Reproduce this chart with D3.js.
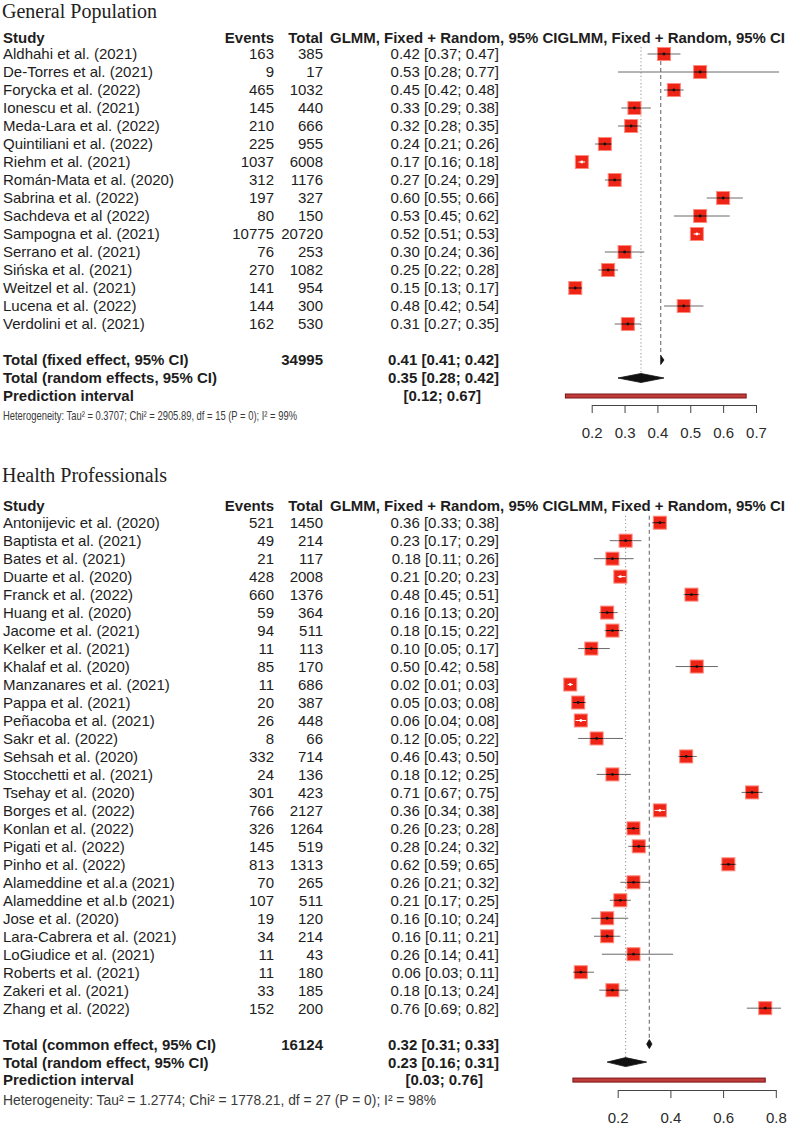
<!DOCTYPE html>
<html><head><meta charset="utf-8">
<script src="https://cdn.jsdelivr.net/npm/d3@7"></script>
<style>
html,body{margin:0;padding:0;background:#fff;}
svg{display:block;}
</style></head>
<body>
<svg id="chart" width="789" height="1125"></svg>
<script>
// ---------- General Population ----------
const gpStudies = ["Aldhahi et al. (2021)","De-Torres et al. (2021)","Forycka et al. (2022)","Ionescu et al. (2021)","Meda-Lara et al. (2022)","Quintiliani et al. (2022)","Riehm et al. (2021)","Román-Mata et al. (2020)","Sabrina et al. (2022)","Sachdeva et al (2022)","Sampogna et al. (2021)","Serrano et al. (2021)","Sińska et al. (2021)","Weitzel et al. (2021)","Lucena et al. (2022)","Verdolini et al. (2021)"];
const gpEvents = [163,9,465,145,210,225,1037,312,197,80,10775,76,270,141,144,162];
const gpTotals = [385,17,1032,440,666,955,6008,1176,327,150,20720,253,1082,954,300,530];
const gpEst   = [0.42,0.53,0.45,0.33,0.32,0.24,0.17,0.27,0.60,0.53,0.52,0.30,0.25,0.15,0.48,0.31];
const gpLower = [0.37,0.28,0.42,0.29,0.28,0.21,0.16,0.24,0.55,0.45,0.51,0.24,0.22,0.13,0.42,0.27];
const gpUpper = [0.47,0.77,0.48,0.38,0.35,0.26,0.18,0.29,0.66,0.62,0.53,0.36,0.28,0.17,0.54,0.35];
const gpPooledLabels = ["Total (fixed effect, 95% CI)","Total (random effects, 95% CI)"];
const gpPooledEst   = [0.41,0.35];
const gpPooledLower = [0.41,0.28];
const gpPooledUpper = [0.42,0.42];
const gpPredict = [0.12,0.67];
const gpTotalN = 34995;
const gpTicks = [0.2,0.3,0.4,0.5,0.6,0.7];
const gpHet = ["0.3707","2905.89","15","0","99%"]; // Tau2, Chi2, df, P, I2

// ---------- Health Professionals ----------
const hpStudies = ["Antonijevic et al. (2020)","Baptista et al. (2021)","Bates et al. (2021)","Duarte et al. (2020)","Franck et al. (2022)","Huang et al. (2020)","Jacome et al. (2021)","Kelker et al. (2021)","Khalaf et al. (2020)","Manzanares et al. (2021)","Pappa et al. (2021)","Peñacoba et al. (2021)","Sakr et al. (2022)","Sehsah et al. (2020)","Stocchetti et al. (2021)","Tsehay et al. (2020)","Borges et al. (2022)","Konlan et al. (2022)","Pigati et al. (2022)","Pinho et al. (2022)","Alameddine et al.a (2021)","Alameddine et al.b (2021)","Jose et al. (2020)","Lara-Cabrera et al. (2021)","LoGiudice et al. (2021)","Roberts et al. (2021)","Zakeri et al. (2021)","Zhang et al. (2022)"];
const hpEvents = [521,49,21,428,660,59,94,11,85,11,20,26,8,332,24,301,766,326,145,813,70,107,19,34,11,11,33,152];
const hpTotals = [1450,214,117,2008,1376,364,511,113,170,686,387,448,66,714,136,423,2127,1264,519,1313,265,511,120,214,43,180,185,200];
const hpEst   = [0.36,0.23,0.18,0.21,0.48,0.16,0.18,0.10,0.50,0.02,0.05,0.06,0.12,0.46,0.18,0.71,0.36,0.26,0.28,0.62,0.26,0.21,0.16,0.16,0.26,0.06,0.18,0.76];
const hpLower = [0.33,0.17,0.11,0.20,0.45,0.13,0.15,0.05,0.42,0.01,0.03,0.04,0.05,0.43,0.12,0.67,0.34,0.23,0.24,0.59,0.21,0.17,0.10,0.11,0.14,0.03,0.13,0.69];
const hpUpper = [0.38,0.29,0.26,0.23,0.51,0.20,0.22,0.17,0.58,0.03,0.08,0.08,0.22,0.50,0.25,0.75,0.38,0.28,0.32,0.65,0.32,0.25,0.24,0.21,0.41,0.11,0.24,0.82];
const hpPooledLabels = ["Total (common effect, 95% CI)","Total (random effect, 95% CI)"];
const hpPooledEst   = [0.32,0.23];
const hpPooledLower = [0.31,0.16];
const hpPooledUpper = [0.33,0.31];
const hpPredict = [0.03,0.76];
const hpTotalN = 16124;
const hpTicks = [0.2,0.4,0.6,0.8];
const hpHet = ["1.2774","1778.21","27","0","98%"];

const headerCols = ["Study","Events","Total","GLMM, Fixed + Random, 95% CIGLMM, Fixed + Random, 95% CI"];

const SANS = "'Liberation Sans', Arial, Helvetica, sans-serif";
const SERIF = "'Liberation Serif', 'Times New Roman', serif";
const TXT = "#1d1d1d";
const f2 = d3.format(".2f");

const svg = d3.select("#chart");
svg.append("rect").attr("width",789).attr("height",1125).attr("fill","#fff");

function drawPanel(cfg){
  const g = svg.append("g");
  const x = d3.scaleLinear().domain([cfg.ticks[0], cfg.ticks[cfg.ticks.length-1]]).range(cfg.xr);
  const rowY = i => cfg.y0 + cfg.dy*i;
  const n = cfg.studies.length;
  const yFixed = rowY(n+1), yRandom = rowY(n+2), yPred = rowY(n+3);

  // title
  g.append("text").attr("x",2).attr("y",cfg.titleY).attr("font-family",SERIF)
    .attr("font-size",20).attr("fill","#222").text(cfg.title);

  // header
  const hy = cfg.y0 - 16.8;
  const hdr = g.append("g").attr("font-family",SANS).attr("font-size",15).attr("font-weight","bold").attr("fill",TXT);
  hdr.append("text").attr("x",3).attr("y",hy).attr("dy","0.36em").text(headerCols[0]);
  hdr.append("text").attr("x",274).attr("y",hy).attr("dy","0.36em").attr("text-anchor","end").text(headerCols[1]);
  hdr.append("text").attr("x",323).attr("y",hy).attr("dy","0.36em").attr("text-anchor","end").text(headerCols[2]);
  hdr.append("text").attr("x",330).attr("y",hy).attr("dy","0.36em").attr("textLength",455).attr("lengthAdjust","spacingAndGlyphs").text(headerCols[3]);

  // vertical reference lines
  g.append("line").attr("x1",x(cfg.pEst[1])).attr("x2",x(cfg.pEst[1]))
    .attr("y1",cfg.y0-7).attr("y2",yRandom-4).attr("stroke","#9a9a9a").attr("stroke-width",1.1).attr("stroke-dasharray","1.2,2.4");
  g.append("line").attr("x1",x(cfg.pEst[0])).attr("x2",x(cfg.pEst[0]))
    .attr("y1",cfg.y0-7).attr("y2",yFixed-4).attr("stroke","#7a7a7a").attr("stroke-width",1.2).attr("stroke-dasharray","4,3");

  // study rows text
  const rows = g.append("g").attr("font-family",SANS).attr("font-size",15).attr("fill",TXT);
  cfg.studies.forEach((s,i)=>{
    const y = rowY(i);
    rows.append("text").attr("x",3).attr("y",y).attr("dy","0.36em").text(s);
    rows.append("text").attr("x",274).attr("y",y).attr("dy","0.36em").attr("text-anchor","end").text(cfg.events[i]);
    rows.append("text").attr("x",323).attr("y",y).attr("dy","0.36em").attr("text-anchor","end").text(cfg.totals[i]);
    rows.append("text").attr("x",499).attr("y",y).attr("dy","0.36em").attr("text-anchor","end")
      .text(`${f2(cfg.est[i])} [${f2(cfg.lo[i])}; ${f2(cfg.hi[i])}]`);
  });

  // study marks
  const sq = 13;
  const marks = g.append("g");
  cfg.studies.forEach((s,i)=>{
    const y = rowY(i), cx = x(cfg.est[i]), xl = x(cfg.lo[i]), xh = x(cfg.hi[i]);
    marks.append("line").attr("x1",xl).attr("x2",xh).attr("y1",y).attr("y2",y).attr("stroke","#6a6a6a").attr("stroke-width",1);
    marks.append("rect").attr("x",cx-sq/2).attr("y",y-sq/2).attr("width",sq).attr("height",sq)
      .attr("fill","#ee2516").attr("stroke","#ff8a7e").attr("stroke-width",1);
    const inside = (xh-xl) < sq;
    const col = inside ? "#ffffff" : "#111111";
    marks.append("line").attr("x1",Math.max(xl,cx-sq/2)).attr("x2",Math.min(xh,cx+sq/2)).attr("y1",y).attr("y2",y)
      .attr("stroke",col).attr("stroke-width",1);
    marks.append("circle").attr("cx",cx).attr("cy",y).attr("r",1.4).attr("fill",col);
  });

  // pooled rows
  const bold = g.append("g").attr("font-family",SANS).attr("font-size",15).attr("font-weight","bold").attr("fill",TXT);
  [yFixed,yRandom].forEach((y,k)=>{
    bold.append("text").attr("x",3).attr("y",y).attr("dy","0.36em").text(cfg.pLabels[k]);
    bold.append("text").attr("x",499).attr("y",y).attr("dy","0.36em").attr("text-anchor","end")
      .text(`${f2(cfg.pEst[k])} [${f2(cfg.pLo[k])}; ${f2(cfg.pHi[k])}]`);
    const h = 4.5;
    const pts = [[x(cfg.pLo[k]),y],[x(cfg.pEst[k]),y-h],[x(cfg.pHi[k]),y],[x(cfg.pEst[k]),y+h]];
    g.append("polygon").attr("points",pts.map(p=>p.join(",")).join(" ")).attr("fill","#111").attr("stroke","#111").attr("stroke-width",0.8);
  });
  bold.append("text").attr("x",323).attr("y",yFixed).attr("dy","0.36em").attr("text-anchor","end").text(cfg.totalN);
  bold.append("text").attr("x",3).attr("y",yPred).attr("dy","0.36em").text("Prediction interval");
  bold.append("text").attr("x",cfg.predTextX).attr("y",yPred).attr("dy","0.36em").attr("text-anchor","end")
    .text(`[${f2(cfg.pred[0])}; ${f2(cfg.pred[1])}]`);
  g.append("rect").attr("x",x(cfg.pred[0])).attr("y",yPred-2).attr("width",x(cfg.pred[1])-x(cfg.pred[0])).attr("height",4)
    .attr("fill","#c23b3b").attr("stroke","#7a1414").attr("stroke-width",1);

  // heterogeneity (single text, unicode superscripts)
  g.append("text").attr("x",3).attr("y",cfg.hetY).attr("dy","0.36em").attr("font-family",SANS)
    .attr("font-size",cfg.hetSize).attr("fill","#3a3a3a").attr("textLength",cfg.hetLen).attr("lengthAdjust","spacingAndGlyphs")
    .text(`Heterogeneity: Tau\u00B2 = ${cfg.het[0]}; Chi\u00B2 = ${cfg.het[1]}, df = ${cfg.het[2]} (P = ${cfg.het[3]}); I\u00B2 = ${cfg.het[4]}`);

  // axis
  const axis = d3.axisBottom(x).tickValues(cfg.ticks).tickSize(8).tickSizeOuter(0).tickPadding(14).tickFormat(d3.format(".1f"));
  const ag = g.append("g").attr("transform",`translate(0,${cfg.axisY})`).call(axis);
  ag.select(".domain").attr("stroke","#444");
  ag.selectAll(".tick line").attr("stroke","#444");
  ag.selectAll(".tick text").attr("font-family",SANS).attr("font-size",15).attr("fill","#2a2a2a");
}

drawPanel({title:"General Population", titleY:17.5, y0:54, dy:18,
  studies:gpStudies, events:gpEvents, totals:gpTotals, est:gpEst, lo:gpLower, hi:gpUpper,
  pLabels:gpPooledLabels, pEst:gpPooledEst, pLo:gpPooledLower, pHi:gpPooledUpper, pred:gpPredict, predTextX:481,
  totalN:gpTotalN, ticks:gpTicks, xr:[591.7,756], axisY:405, het:gpHet, hetY:415, hetSize:13, hetLen:294});

drawPanel({title:"Health Professionals", titleY:482, y0:522.7, dy:17.98,
  studies:hpStudies, events:hpEvents, totals:hpTotals, est:hpEst, lo:hpLower, hi:hpUpper,
  pLabels:hpPooledLabels, pEst:hpPooledEst, pLo:hpPooledLower, pHi:hpPooledUpper, pred:hpPredict, predTextX:483,
  totalN:hpTotalN, ticks:hpTicks, xr:[617.7,775.8], axisY:1090, het:hpHet, hetY:1100, hetSize:14, hetLen:433});
</script>
</body></html>
